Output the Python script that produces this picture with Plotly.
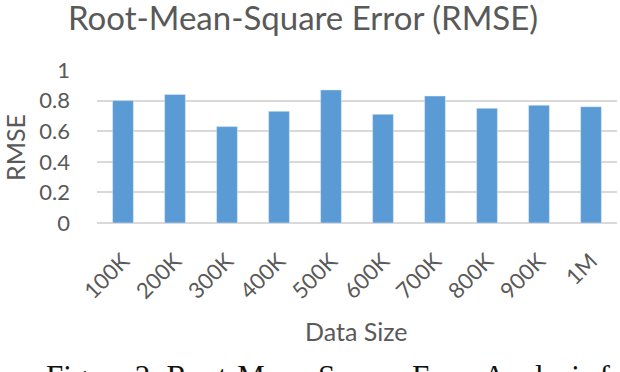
import plotly.graph_objects as go

categories = ["100K", "200K", "300K", "400K", "500K", "600K", "700K", "800K", "900K", "1M"]
rmse = [0.80, 0.84, 0.63, 0.73, 0.87, 0.71, 0.83, 0.75, 0.77, 0.76]
y_ticks = [0, 0.2, 0.4, 0.6, 0.8, 1]
y_tick_labels = ["0", "0.2", "0.4", "0.6", "0.8", "1"]

FONT = "Lato"
GREY = "#595959"

fig = go.Figure(go.Bar(x=categories, y=rmse, marker_color="#5b9bd5", width=0.4))

fig.update_layout(
    width=620, height=372,
    margin=dict(l=97, r=3, t=70, b=149),
    plot_bgcolor="white", paper_bgcolor="white",
    showlegend=False,
    font=dict(family=FONT, color=GREY),
)
fig.update_yaxes(
    range=[0, 1], tickvals=y_ticks, ticktext=y_tick_labels,
    showgrid=True, gridcolor="#d9d9d9", gridwidth=1.5,
    zeroline=True, zerolinecolor="#d9d9d9", zerolinewidth=1.5,
    tickfont=dict(size=22, color=GREY, family=FONT),
    ticklabelstandoff=26, showline=False, automargin=False,
)
fig.update_xaxes(
    tickangle=-45, tickfont=dict(size=22, color=GREY, family=FONT),
    showline=False, showgrid=False, automargin=False, ticklabelstandoff=20,
)
fig.add_annotation(text="Root-Mean-Square Error (RMSE)", xref="paper", yref="paper",
                   x=(303 - 97) / 520, y=1 + (70 - 17) / 153, showarrow=False,
                   xanchor="center", yanchor="middle",
                   font=dict(size=33, color=GREY, family=FONT))
fig.add_annotation(text="RMSE", xref="paper", yref="paper",
                   x=(15 - 97) / 520, y=(223 - 148) / 153, showarrow=False,
                   textangle=-90, xanchor="center", yanchor="middle",
                   font=dict(size=25, color=GREY, family=FONT))
fig.add_annotation(text="Data Size", xref="paper", yref="paper",
                   x=(356 - 97) / 520, y=-(331 - 223) / 153, showarrow=False,
                   xanchor="center", yanchor="middle",
                   font=dict(size=25, color=GREY, family=FONT))
fig.add_annotation(text="Figure 2: Root-Mean-Square Error Analysis f", xref="paper", yref="paper",
                   x=(44 - 97) / 520, y=-(376 - 223) / 153, showarrow=False,
                   xanchor="left", yanchor="middle",
                   font=dict(size=31, color="#111111", family="Liberation Serif"))

fig.write_html("out.html")
